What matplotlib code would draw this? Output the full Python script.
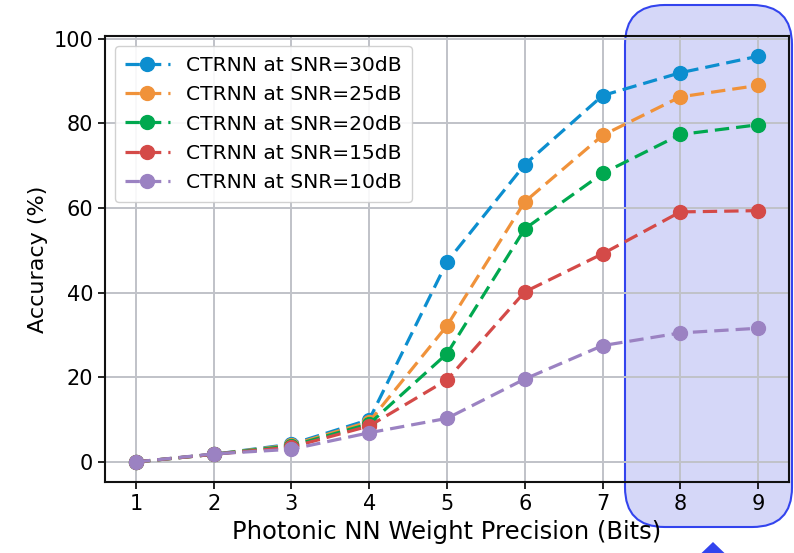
import matplotlib
matplotlib.use("Agg")
import matplotlib.pyplot as plt
from matplotlib.patches import FancyBboxPatch, Polygon

bits = [1, 2, 3, 4, 5, 6, 7, 8, 9]
acc_30 = [0.0, 1.8, 4.2, 10.0, 47.3, 70.3, 86.6, 92.0, 95.9]
acc_25 = [0.0, 1.8, 4.0, 9.5, 32.2, 61.5, 77.2, 86.3, 89.0]
acc_20 = [0.0, 1.8, 3.8, 9.0, 25.6, 55.1, 68.2, 77.4, 79.7]
acc_15 = [0.0, 1.8, 3.5, 8.5, 19.4, 40.2, 49.2, 59.1, 59.4]
acc_10 = [0.0, 1.9, 3.0, 6.9, 10.3, 19.6, 27.5, 30.5, 31.6]
labels = ["CTRNN at SNR=30dB", "CTRNN at SNR=25dB", "CTRNN at SNR=20dB",
          "CTRNN at SNR=15dB", "CTRNN at SNR=10dB"]
colors = ["#0c8ecf", "#f0923a", "#00a84f", "#d44a48", "#9b82c2"]

fig = plt.figure(figsize=(7.94, 5.53), dpi=100)

# highlight box over bits 8-9 (behind the axes content)
box = FancyBboxPatch((625 / 794, 1 - 527 / 553), (792 - 625) / 794, (527 - 5) / 553,
                     boxstyle="round,pad=0,rounding_size=0.05",
                     transform=fig.transFigure, facecolor="#d5d7f8",
                     edgecolor="#3344ee", lw=1.5, mutation_aspect=794 / 553, zorder=0)
fig.add_artist(box)
tri = Polygon([(713 / 794, 1 - 542 / 553), (690 / 794, -0.02), (736 / 794, -0.02)],
              closed=True, transform=fig.transFigure, facecolor="#3344ee",
              edgecolor="none", zorder=0)
fig.add_artist(tri)

ax = fig.add_axes([0.132, 0.128, 0.862, 0.807])
ax.set_zorder(1)
ax.patch.set_visible(False)

for ys, lab, c in zip([acc_30, acc_25, acc_20, acc_15, acc_10], labels, colors):
    ax.plot(bits, ys, "--o", color=c, label=lab, lw=2.3, ms=10, dashes=(4.5, 2.2))

ax.grid(True, color="#c0c2c8", lw=1.4)
ax.set_axisbelow(True)
ax.set_xticks(bits)
ax.set_yticks([0, 20, 40, 60, 80, 100])
ax.tick_params(labelsize=15, length=5, width=1.2)
for s in ax.spines.values():
    s.set_linewidth(1.5)
    s.set_color("#111111")
ax.set_xlabel("Photonic NN Weight Precision (Bits)", fontsize=17.5)
ax.set_ylabel("Accuracy (%)", fontsize=16)
ax.legend(loc="upper left", fontsize=14.6, handlelength=2.2, borderpad=0.5,
          labelspacing=0.5, framealpha=0.9, edgecolor="#cccccc")

fig.savefig("out.png", dpi=100)
